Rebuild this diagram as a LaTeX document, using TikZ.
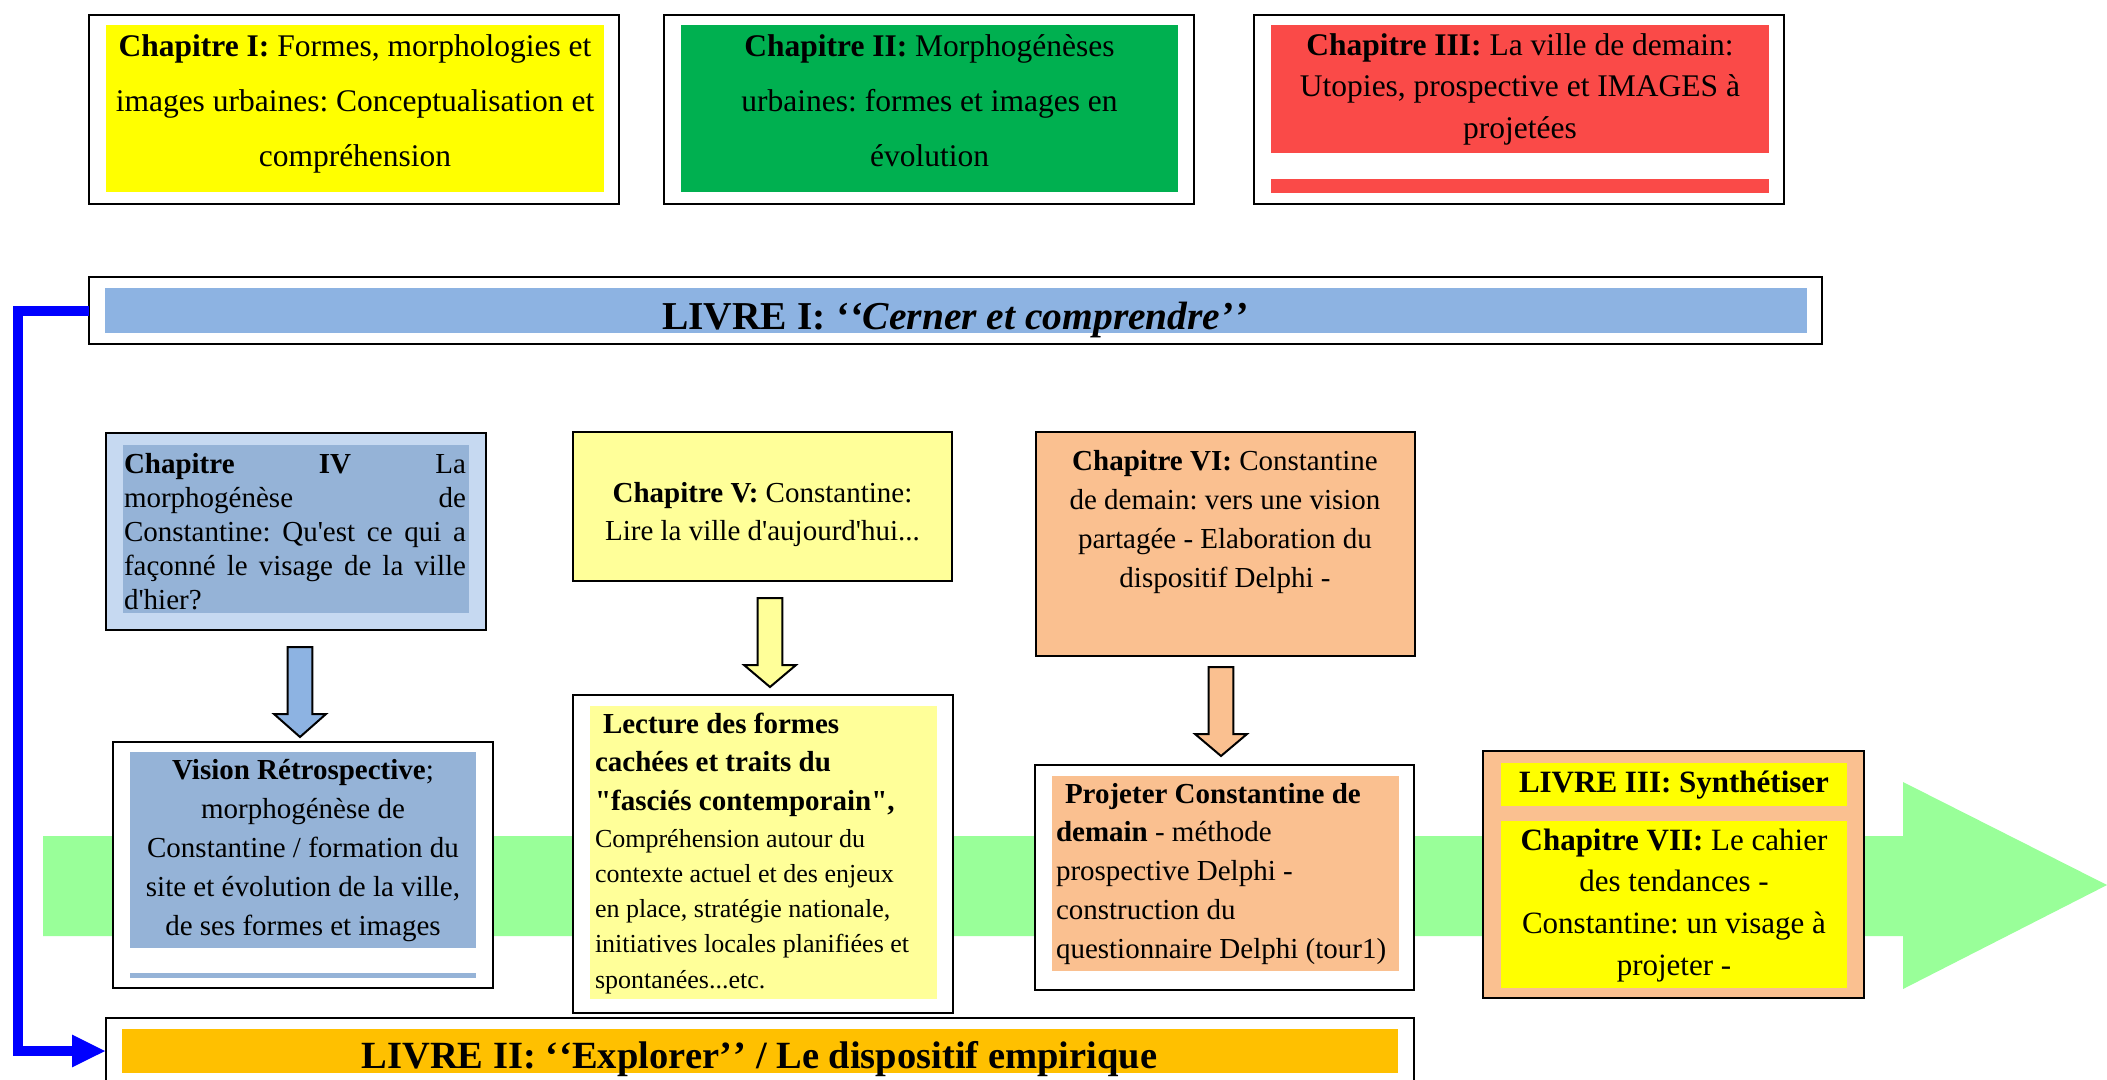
\documentclass[tikz,border=0pt]{standalone}
\usepackage{fontspec}
\setmainfont{Liberation Serif}
\usetikzlibrary{arrows.meta}
\frenchspacing

\definecolor{chapyellow}{HTML}{FFFF00}
\definecolor{chapgreen}{HTML}{00B050}
\definecolor{chapred}{HTML}{FA4A48}
\definecolor{bookblue}{HTML}{8DB3E2}
\definecolor{paleblue}{HTML}{C6D9F1}
\definecolor{steelblue}{HTML}{95B3D7}
\definecolor{paleyellow}{HTML}{FFFF99}
\definecolor{peach}{HTML}{FAC090}
\definecolor{amber}{HTML}{FFC000}
\definecolor{flowgreen}{HTML}{99FF99}
\definecolor{linkblue}{HTML}{0000FF}

% rectangle given by its corners: name, x1, y1, x2, y2, style
\newcommand{\mkpanel}[6]{%
  \node[#6, minimum width={(#4-#2)*1pt}, minimum height={(#5-#3)*1pt}]
    (#1) at ({(#2+#4)/2},{(#3+#5)/2}) {};}

% hollow downward block arrow: x, top, head base, tip, fill
\newcommand{\downblock}[5]{%
  \draw[blockarrow, fill=#5] (#1-12.3,#2) -- (#1+12.3,#2) -- (#1+12.3,#3)
    -- (#1+26,#3) -- (#1,#4) -- (#1-26,#3) -- (#1-12.3,#3) -- cycle;}

% plain word spaces of the font, without stretch (centred and ragged text)
\newcommand{\fixedspaces}{\spaceskip=\fontdimen2\font\xspaceskip=0pt\relax}
% the font's own stretchable word spaces (justified text)
\newcommand{\fontspaces}{\spaceskip=0pt\xspaceskip=0pt\relax}
% doubled quotation marks kept as two separate glyphs
\newcommand{\opq}{‘\kern1pt‘}
\newcommand{\clq}{’\kern1pt’}

\tikzset{
  frame/.style={draw=black, line width=2.2pt, inner sep=0pt, outer sep=0pt},
  tint/.style={draw=none, inner sep=0pt, outer sep=0pt},
  txtc/.style={inner sep=0pt, outer sep=0pt, anchor=base, align=center},
  txtl/.style={inner sep=0pt, outer sep=0pt, anchor=base west, align=left},
  blockarrow/.style={draw=black, line width=2pt, line join=miter},
  bigfont/.style={font={\fontsize{31.5}{55}\selectfont}},
}

\begin{document}
\begin{tikzpicture}[x=1pt,y=-1pt]
\useasboundingbox (0,0) rectangle (2107,1079);
\clip (0,0) rectangle (2107,1079);
\fill[white] (0,0) rectangle (2107,1079);

% broad flow arrow running under the middle row
\fill[flowgreen] (43,836) -- (1903,836) -- (1903,782) -- (2107,885)
  -- (1903,989) -- (1903,936) -- (43,936) -- cycle;

% ---- chapters I to III ----
\mkpanel{c1}{89}{15}{619}{204}{frame, fill=white}
\mkpanel{c1in}{106}{25}{604}{192}{tint, fill=chapyellow}
\node[txtc, text width=498pt, bigfont] (c1txt) at (355,56)
  {\fixedspaces\textbf{Chapitre I:} Formes, morphologies et\\images urbaines: Conceptualisation et\\compréhension};

\mkpanel{c2}{664}{15}{1194}{204}{frame, fill=white}
\mkpanel{c2in}{681}{25}{1178}{192}{tint, fill=chapgreen}
\node[txtc, text width=497pt, bigfont] (c2txt) at (929.5,56)
  {\fixedspaces\textbf{Chapitre II:} Morphogénèses\\urbaines: formes et images en\\évolution};

\mkpanel{c3}{1254}{15}{1784}{204}{frame, fill=white}
\mkpanel{c3in}{1271}{25}{1769}{153}{tint, fill=chapred}
\mkpanel{c3bar}{1271}{179}{1769}{193}{tint, fill=chapred}
\node[txtc, text width=498pt, font={\fontsize{31.5}{41.5}\selectfont}] (c3txt) at (1520,55)
  {\fixedspaces\textbf{Chapitre III:} La ville de demain:\\Utopies, prospective et IMAGES à\\projetées};

% ---- book I ----
\mkpanel{l1}{89}{277}{1822}{344}{frame, fill=white}
\mkpanel{l1in}{105}{288}{1807}{333}{tint, fill=bookblue}
\node[txtc, font={\fontsize{39.5}{44}\selectfont\bfseries}] (l1txt) at (955,329)
  {\fixedspaces LIVRE I: \textit{\opq Cerner et comprendre\clq}};

% ---- chapters IV to VI ----
\mkpanel{c4}{106}{433}{486}{630}{frame, fill=paleblue}
\mkpanel{c4in}{123}{445}{469}{613}{tint, fill=steelblue}
\node[txtl, text width=342pt, font={\fontsize{29}{34}\selectfont}] (c4txt) at (124,473)
  {\fontspaces
   \makebox[\linewidth][s]{\textbf{Chapitre}\hfill\textbf{IV}\hfill La}\\
   \makebox[\linewidth][s]{morphogénèse\hfill de}\\
   \makebox[\linewidth][s]{Constantine: Qu\textquotesingle est ce qui a}\\
   \makebox[\linewidth][s]{façonné le visage de la ville}\\
   d\textquotesingle hier?};

\mkpanel{c5}{573}{432}{952}{581}{frame, fill=paleyellow}
\node[txtc, text width=370pt, font={\fontsize{29}{38.5}\selectfont}] (c5txt) at (762.5,502)
  {\fixedspaces\textbf{Chapitre V:} Constantine:\\Lire la ville d\textquotesingle aujourd\textquotesingle hui...};

\mkpanel{c6}{1036}{432}{1415}{656}{frame, fill=peach}
\node[txtc, text width=370pt, font={\fontsize{29}{39}\selectfont}] (c6txt) at (1225,470)
  {\fixedspaces\textbf{Chapitre VI:} Constantine\\de demain: vers une vision\\partagée - Elaboration du\\dispositif Delphi -};

% ---- block arrows from chapters to their contents ----
\downblock{300}{647}{714}{737}{bookblue}
\downblock{770}{598}{665}{687}{paleyellow}
\downblock{1221}{667}{734}{756}{peach}

% ---- contents of chapters IV to VI ----
\mkpanel{vis}{113}{742}{493}{988}{frame, fill=white}
\mkpanel{visin}{130}{752}{476}{948}{tint, fill=steelblue}
\mkpanel{visbar}{130}{973}{476}{978}{tint, fill=steelblue}
\node[txtc, text width=346pt, font={\fontsize{29}{39}\selectfont}] (vistxt) at (303,779)
  {\fixedspaces\textbf{Vision Rétrospective};\\morphogénèse de\\Constantine / formation du\\site et évolution de la ville,\\de ses formes et images};

\mkpanel{lec}{573}{695}{953}{1013}{frame, fill=white}
\mkpanel{lecin}{590}{706}{937}{999}{tint, fill=paleyellow}
\node[txtl, text width=342pt, font={\fontsize{29}{38.5}\selectfont\bfseries}] (lectitle) at (595,733)
  {\fixedspaces\hspace*{8pt}Lecture des formes\\cachées et traits du\\\textquotedbl fasciés contemporain\textquotedbl,};
\node[txtl, text width=342pt, font={\fontsize{26}{35.3}\selectfont}] (lecbody) at (595,847)
  {\fixedspaces Compréhension autour du\\contexte actuel et des enjeux\\en place, stratégie nationale,\\initiatives locales planifiées et\\spontanées...etc.};

\mkpanel{proj}{1035}{765}{1414}{990}{frame, fill=white}
\mkpanel{projin}{1052}{776}{1399}{971}{tint, fill=peach}
\node[txtl, text width=342pt, font={\fontsize{29}{38.8}\selectfont}] (projtxt) at (1056,803)
  {\fixedspaces\hspace*{9pt}\textbf{Projeter Constantine de}\\\textbf{demain} - méthode\\prospective Delphi -\\construction du\\questionnaire Delphi (tour1)};

% ---- book III ----
\mkpanel{l3}{1483}{751}{1864}{998}{frame, fill=peach}
\mkpanel{l3head}{1501}{763}{1847}{806}{tint, fill=chapyellow}
\mkpanel{l3body}{1501}{821}{1847}{988}{tint, fill=chapyellow}
\node[txtc, text width=346pt, font={\fontsize{31}{40}\selectfont\bfseries}] (l3title) at (1674,792)
  {\fixedspaces LIVRE III: Synthétiser};
\node[txtc, text width=346pt, font={\fontsize{31}{41.7}\selectfont}] (l3txt) at (1674,850)
  {\fixedspaces\textbf{Chapitre VII:} Le cahier\\des tendances -\\Constantine: un visage à\\projeter -};

% ---- book II ----
\mkpanel{l2}{106}{1018}{1414}{1084}{frame, fill=white}
\mkpanel{l2in}{122}{1029}{1398}{1073}{tint, fill=amber}
\node[txtc, font={\fontsize{38.5}{44}\selectfont\bfseries}] (l2txt) at (759.5,1068)
  {\fixedspaces LIVRE II: \opq Explorer\clq{} / Le dispositif empirique};

% ---- link from book I down to book II ----
\coordinate (bend) at (18,700);
\draw[linkblue, line width=10pt, line join=miter,
      -{Triangle[length=34pt, width=30pt]}]
  (l1.west) -| (bend) |- (l2.west);

\end{tikzpicture}
\end{document}
